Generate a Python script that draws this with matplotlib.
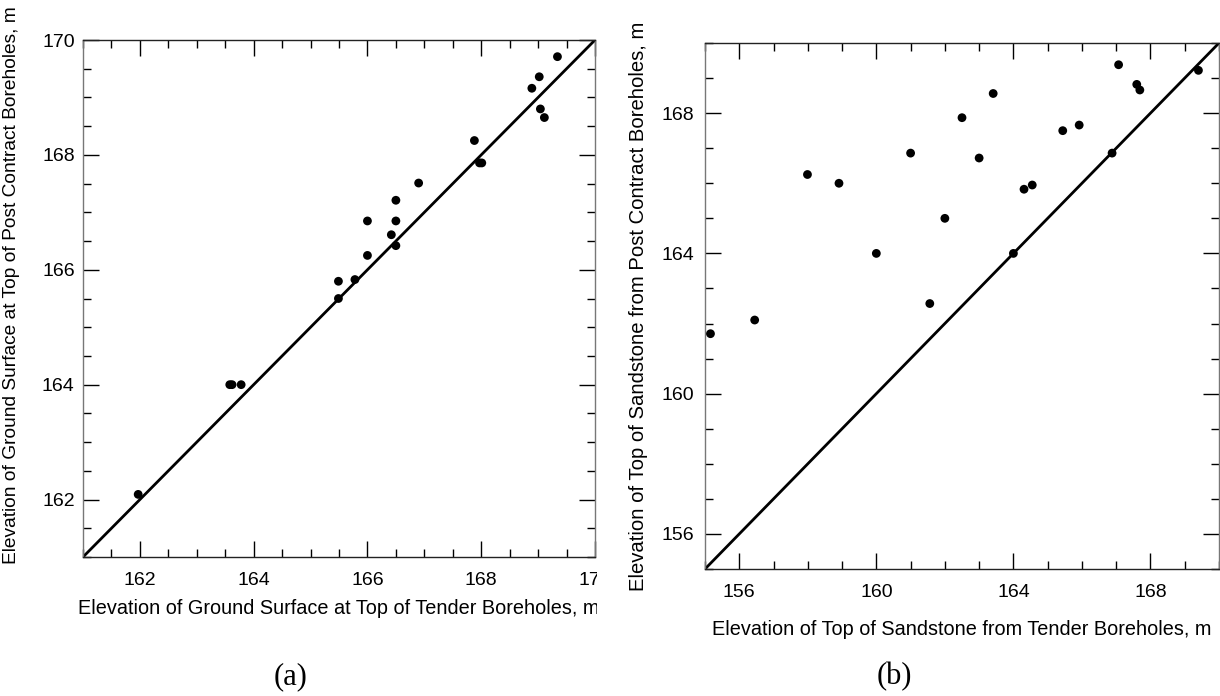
import matplotlib
matplotlib.use("Agg")
import matplotlib.pyplot as plt
from matplotlib.ticker import MultipleLocator, FixedLocator
from matplotlib.transforms import Bbox, TransformedBbox

plt.rcParams['font.family'] = ['Liberation Sans', 'DejaVu Sans']

# ---------------- data ----------------
# (a) ground surface elevation, tender vs post-contract boreholes (m)
ground_tender = [161.97, 163.58, 163.62, 163.78, 165.49, 165.49, 165.78, 166.00,
                 166.00, 166.42, 166.50, 166.50, 166.50, 166.90, 167.88, 167.97,
                 168.01, 168.89, 169.02, 169.04, 169.11, 169.34]
ground_post = [162.09, 164.00, 164.00, 164.00, 165.80, 165.50, 165.83, 166.25,
               166.85, 166.61, 166.42, 166.85, 167.21, 167.51, 168.25, 167.86,
               167.86, 169.16, 169.36, 168.80, 168.65, 169.71]

# (b) top of sandstone elevation, tender vs post-contract boreholes (m)
sand_tender = [155.16, 156.45, 157.99, 158.91, 160.00, 161.00, 161.56, 162.00,
               162.50, 163.00, 163.41, 164.00, 164.31, 164.55, 165.44, 165.92,
               166.88, 167.07, 167.60, 167.69, 169.40]
sand_post = [161.71, 162.10, 166.25, 166.00, 164.00, 166.86, 162.57, 165.00,
             167.87, 166.72, 168.56, 164.00, 165.83, 165.95, 167.50, 167.66,
             166.86, 169.38, 168.82, 168.66, 169.22]

limits_a = [161, 170]
limits_b = [155, 170]
ticks_a = [162, 164, 166, 168, 170]
ticks_b = [156, 160, 164, 168]

xlabel_a = "Elevation of Ground Surface at Top of Tender Boreholes, m"
ylabel_a = "Elevation of Ground Surface at Top of Post Contract Boreholes, m"
xlabel_b = "Elevation of Top of Sandstone from Tender Boreholes, m"
ylabel_b = "Elevation of Top of Sandstone from Post Contract Boreholes, m"

# ---------------- figure ----------------
W, H = 1220, 696
fig = plt.figure(figsize=(W / 100, H / 100), dpi=100)


def px_axes(x0, y0, x1, y1):
    return fig.add_axes([x0 / W, 1 - y1 / H, (x1 - x0) / W, (y1 - y0) / H])


ax_a = px_axes(83, 40, 595, 557)
ax_b = px_axes(705, 43, 1219, 569)

FS = 14


def style(ax, lims, major, minor, ypad):
    ax.set_xlim(lims)
    ax.set_ylim(lims)
    ax.xaxis.set_major_locator(FixedLocator(major))
    ax.yaxis.set_major_locator(FixedLocator(major))
    ax.xaxis.set_minor_locator(MultipleLocator(minor))
    ax.yaxis.set_minor_locator(MultipleLocator(minor))
    ax.tick_params(which='both', direction='in', top=True, right=True,
                   width=1.0, color='black', labelsize=FS)
    ax.tick_params(which='major', length=11.5)
    ax.tick_params(which='minor', length=6)
    ax.tick_params(axis='x', which='major', pad=11)
    ax.tick_params(axis='y', which='major', pad=ypad)
    for s in ('top', 'bottom'):
        ax.spines[s].set_color('#222222')
        ax.spines[s].set_linewidth(1.0)
    for s in ('left', 'right'):
        ax.spines[s].set_color('#777777')
        ax.spines[s].set_linewidth(1.0)


# panel (a)
ax_a.plot(limits_a, limits_a, color='black', lw=2.0, zorder=2)
ax_a.scatter(ground_tender, ground_post, s=40, color='black', edgecolors='none', zorder=3)
style(ax_a, limits_a, ticks_a, 0.5, 6)
ax_a.set_xlabel(xlabel_a, fontsize=14.3)
ax_a.set_ylabel(ylabel_a, fontsize=13.8)
ax_a.xaxis.set_label_coords(0.5, -0.082)
ax_a.yaxis.set_label_coords(-0.124, 0.526)

# panel (b)
ax_b.plot(limits_b, limits_b, color='black', lw=2.0, zorder=2)
ax_b.scatter(sand_tender, sand_post, s=40, color='black', edgecolors='none', zorder=3)
style(ax_b, limits_b, ticks_b, 1, 7.5)
ax_b.set_xlabel(xlabel_b, fontsize=14.3)
ax_b.set_ylabel(ylabel_b, fontsize=14.6)
ax_b.xaxis.set_label_coords(0.5, -0.097)
ax_b.yaxis.set_label_coords(-0.111, 0.5)

# captions
fig.text(291 / W, 1 - 677 / H, "(a)", ha='center', va='center',
         fontsize=22, family=['Liberation Serif', 'DejaVu Serif'])
fig.text(894 / W, 1 - 677 / H, "(b)", ha='center', va='center',
         fontsize=22, family=['Liberation Serif', 'DejaVu Serif'])

# clip panel (a) bottom text at the panel edge, as in the reference
fig.canvas.draw()
clip = TransformedBbox(Bbox([[0, 0], [597 / W, 1]]), fig.transFigure)
for lbl in ax_a.get_xticklabels() + [ax_a.xaxis.label]:
    lbl.set_clip_on(True)
    lbl.set_clip_box(clip)

fig.savefig("out.png", dpi=100)
